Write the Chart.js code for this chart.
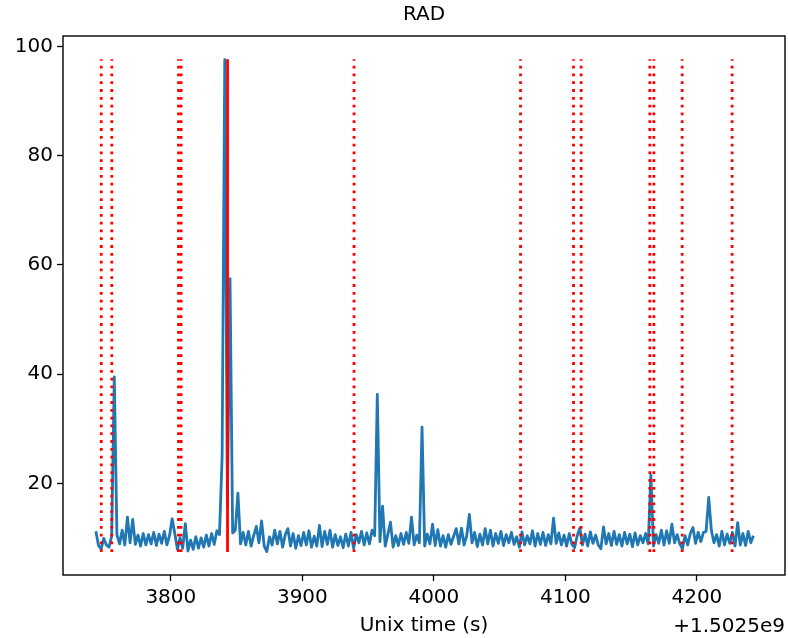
<!DOCTYPE html>
<html>
<head>
<meta charset="utf-8">
<title>RAD</title>
<script src="https://cdn.jsdelivr.net/npm/chart.js"></script>
<style>
  html, body { margin: 0; padding: 0; background: #fff; }
  #wrap { width: 788px; height: 638px; }
</style>
</head>
<body>
<div id="wrap"><canvas id="radChart" width="788" height="638"></canvas></div>
<script>
// time axis: seconds after 1.5025e9, one sample every 2 s
const startTime = 3743;
const timeStep = 2;

// RAD readings
const radValues = [
  11.2, 8.6, 8.0, 9.9, 8.7, 8.3, 10.3, 39.5, 10.6, 8.9,
  11.4, 8.7, 13.8, 9.1, 13.4, 8.8, 10.5, 8.5, 10.8, 8.7,
  10.6, 8.9, 11.0, 8.6, 10.7, 9.0, 11.2, 8.7, 10.4, 13.5,
  10.8, 7.9, 10.0, 8.1, 12.6, 7.6, 9.6, 7.9, 10.2, 8.1,
  10.0, 8.3, 10.5, 8.5, 10.8, 8.8, 11.3, 10.6, 25.0, 97.6,
  16.0, 57.5, 10.9, 11.4, 18.2, 8.9, 11.0, 8.7, 11.2, 8.5,
  10.4, 12.1, 9.1, 13.1, 8.5, 7.5, 10.2, 8.7, 11.4, 8.9,
  11.2, 8.3, 10.6, 11.7, 8.5, 10.8, 8.1, 10.4, 8.6, 11.0,
  8.7, 11.3, 8.3, 10.3, 8.5, 12.3, 8.4, 11.2, 8.8, 11.4,
  8.3, 10.6, 8.6, 10.2, 8.2, 10.7, 8.5, 11.0, 8.1, 10.6,
  9.1, 11.2, 8.7, 10.9, 8.9, 11.4, 10.4, 36.3, 9.3, 15.8,
  8.5, 10.6, 12.9, 8.3, 10.4, 8.6, 10.8, 8.8, 11.0, 9.0,
  13.8, 8.7, 10.5, 9.1, 30.3, 8.5, 10.7, 8.9, 12.5, 8.6,
  11.5, 8.5, 10.4, 8.3, 10.6, 8.8, 10.3, 11.7, 8.9, 11.8,
  8.7, 10.4, 14.3, 9.1, 11.0, 8.4, 10.7, 8.7, 11.7, 8.9,
  11.4, 8.5, 10.8, 9.0, 11.2, 8.6, 10.6, 9.1, 11.0, 8.8,
  10.2, 8.3, 11.1, 8.7, 10.4, 8.9, 11.3, 8.5, 10.8, 8.8,
  11.0, 8.6, 10.6, 8.9, 13.6, 9.0, 10.9, 8.7, 10.5, 8.5,
  10.8, 8.8, 8.2, 10.4, 11.8, 8.7, 10.7, 8.5, 11.1, 9.0,
  10.5, 8.7, 8.0, 12.0, 8.9, 10.8, 8.6, 11.2, 8.8, 10.6,
  8.5, 11.0, 8.9, 10.7, 8.4, 10.9, 8.7, 10.4, 9.1, 10.8,
  8.9, 21.5, 8.5, 10.6, 9.0, 11.4, 8.7, 11.3, 9.0, 12.5,
  9.1, 10.6, 8.9, 8.0, 10.4, 8.7, 10.8, 11.9, 9.0, 11.0,
  9.3, 11.0, 11.2, 17.4, 11.4, 9.1, 10.6, 8.5, 11.2, 8.7,
  10.7, 9.0, 11.0, 8.5, 12.8, 8.7, 10.8, 8.6, 11.2, 9.1,
  10.4
];

// event markers (red dotted) and the one solid marker
const eventTimes = [3747.1, 3755.1, 3805.8, 3807.8, 3939.3, 4065.9, 4106.2, 4112.0, 4164.2, 4167.3, 4188.8, 4226.8];
const solidEventTimes = [3843.1];
const eventLow = 7.4;
const eventHigh = 97.7;

const xTicks = [3800, 3900, 4000, 4100, 4200];
const yTicks = [20, 40, 60, 80, 100];
const xOffsetLabel = '+1.5025e9';

const FONT = 'DejaVu Sans';

const radPoints = radValues.map((v, i) => ({ x: startTime + i * timeStep, y: v }));

function markerSet(t, dashed) {
    return {
        label: 'event',
        data: [{ x: t, y: eventLow }, { x: t, y: eventHigh }],
        borderColor: '#ff0000',
        borderWidth: 2.8,
        borderDash: dashed ? [2.8, 5] : [],
        borderCapStyle: 'butt',
        pointRadius: 0,
        fill: false,
        order: 0
    };
}

const datasets = [];
eventTimes.forEach(t => datasets.push(markerSet(t, true)));
solidEventTimes.forEach(t => datasets.push(markerSet(t, false)));
datasets.push({
    label: 'RAD',
    data: radPoints,
    borderColor: '#1f77b4',
    borderWidth: 2.8,
    borderJoinStyle: 'round',
    pointRadius: 0,
    tension: 0,
    fill: false,
    order: 1
});

// box around the plot area plus the matplotlib-style offset text
const framePlugin = {
    id: 'frame',
    afterDraw(chart) {
        const { ctx, chartArea } = chart;
        ctx.save();
        ctx.strokeStyle = '#000';
        ctx.lineWidth = 1.4;
        ctx.strokeRect(chartArea.left, chartArea.top,
            chartArea.right - chartArea.left, chartArea.bottom - chartArea.top);
        ctx.fillStyle = '#000';
        ctx.font = '20px "' + FONT + '"';
        ctx.textAlign = 'right';
        ctx.textBaseline = 'middle';
        ctx.fillText(xOffsetLabel, chartArea.right, 627);
        ctx.restore();
    }
};

const tickFont = { family: FONT, size: 20 };

new Chart(document.getElementById('radChart').getContext('2d'), {
    type: 'line',
    data: { datasets: datasets },
    options: {
        responsive: false,
        devicePixelRatio: 1,
        animation: false,
        layout: { padding: { top: 0, right: 3, bottom: 0, left: 0 } },
        plugins: {
            legend: { display: false },
            tooltip: { enabled: false },
            title: {
                display: true,
                text: 'RAD',
                fullSize: false,
                color: '#000',
                font: { family: FONT, size: 20, weight: 'normal' },
                padding: { top: 3, bottom: 9 }
            }
        },
        scales: {
            x: {
                type: 'linear',
                min: 3718,
                max: 4267,
                afterBuildTicks: s => { s.ticks = xTicks.map(v => ({ value: v })); },
                afterFit: s => { s.height = 63; },
                ticks: { color: '#000', font: tickFont, padding: 5, maxRotation: 0,
                    callback: v => String(v) },
                grid: { drawOnChartArea: false, drawTicks: true, tickLength: 6,
                    tickWidth: 1.3, tickColor: '#000' },
                border: { display: false },
                title: { display: true, text: 'Unix time (s)', color: '#000',
                    font: tickFont, padding: { top: 0, bottom: 0 } }
            },
            y: {
                min: 3.2,
                max: 101.95,
                afterBuildTicks: s => { s.ticks = yTicks.map(v => ({ value: v })); },
                afterFit: s => { s.width = 63; },
                ticks: { color: '#000', font: tickFont, padding: 4,
                    callback: v => String(v) },
                grid: { drawOnChartArea: false, drawTicks: true, tickLength: 6,
                    tickWidth: 1.3, tickColor: '#000' },
                border: { display: false }
            }
        }
    },
    plugins: [framePlugin]
});
</script>
</body>
</html>
